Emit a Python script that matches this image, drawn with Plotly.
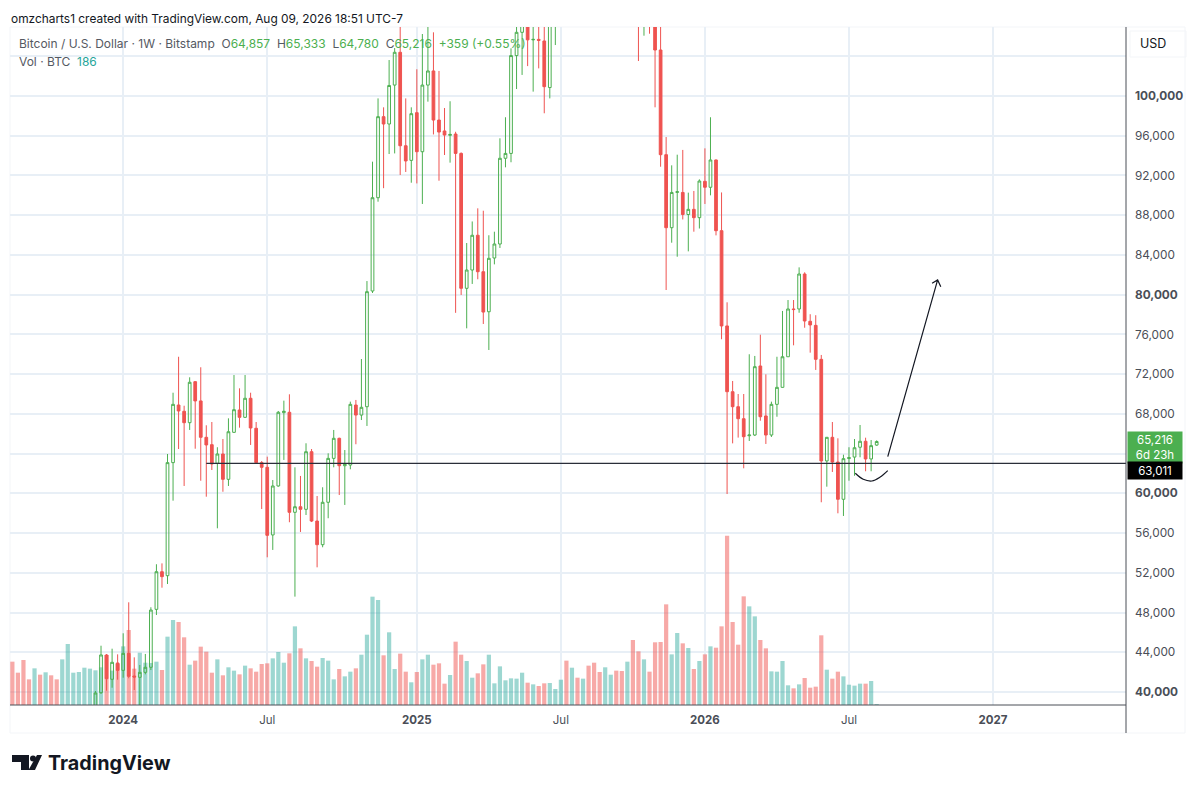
import pandas as pd
import plotly.graph_objects as go

# weekly bars, BTC/USD
first_week = "2023-08-14"
candle_start = 15  # earlier candles sit below the visible price range

volume = [8060, 6010, 8370, 4770, 6820, 5640, 6080, 5520, 4770, 8490,
          11350, 6010, 6140, 6940, 6760, 6450, 7010, 9300, 6390, 7630,
          10910, 13950, 6760, 9730, 7870, 7810, 8060, 6510, 12710, 15810,
          15440, 12590, 7500, 8250, 10850, 9920, 6010, 8490, 5520, 7010,
          6390, 5700, 7320, 6820, 6200, 7630, 7750, 8680, 9860, 7870,
          9610, 14630, 10540, 8680, 8180, 7130, 8740, 8250, 4770, 6700,
          5330, 6200, 6820, 9360, 13080, 20150, 19530, 9240, 13520, 6700,
          9550, 6200, 4220, 6140, 8490, 9360, 7500, 7750, 3970, 5580,
          11780, 9360, 8180, 5080, 5890, 7560, 9360, 4030, 7190, 4590,
          4960, 4900, 6010, 4150, 3840, 3530, 4030, 4090, 2980, 4710,
          8250, 6940, 5080, 4900, 7320, 7870, 6140, 7010, 5640, 6390,
          6320, 8060, 12090, 9980, 8490, 6200, 11660, 11720, 18720, 9420,
          13390, 11470, 10600, 6700, 8180, 9420, 10910, 10660, 14630, 31500,
          15440, 11220, 20210, 18350, 16490, 12090, 10540, 6260, 6200, 8180,
          3660, 3100, 3840, 5020, 3220, 3410, 12960, 6570, 4900, 6200,
          5330, 3780, 3600, 3970, 3970, 4460, 186]
volume_side = ("r r r r g r g r r g "
               "g g g g g g g r g r "
               "g r r g g g g r g g "
               "r r g r r r r g r g "
               "g r g r r r r g g g "
               "r g r g r r g g g r "
               "g g r g g g g r g g "
               "r r g r g g r r r g "
               "r r g g r r g g g g "
               "g g g r g r r g g g "
               "r g r g r r r g g r "
               "r g r r g r r r r g "
               "g r g r g r g r r r "
               "r r r g g r r g g g "
               "g r g r r r r g r r "
               "g g g g r g g").split()

candle_open = [
    37500, 39930, 43725, 41280, 42920, 42180, 43890, 41610, 41480, 41980,
    42490, 48320, 52110, 51710, 63090, 68890, 68260, 67110, 71240, 69300,
    65640, 64900, 63020, 63960, 61410, 66140, 68390, 67650, 69570, 66550,
    63090, 62620, 55810, 60740, 68120, 68160, 58090, 58650, 58390, 64190,
    57210, 54830, 59100, 63520, 65540, 62780, 62850, 68890, 67880, 68720,
    80370, 89760, 97920, 97180, 101100, 104400, 94990, 93520, 98320, 94390,
    101100, 102520, 97580, 96480, 96040, 96170, 94220, 80640, 82480, 85980,
    82310, 78280, 83690, 85100, 93730, 94220, 104070, 106410, 109000, 105650,
    105700, 105540, 100850, 110000, 112000, 115000, 117500, 118000, 117200, 113500,
    115700, 123000, 111500, 115000, 112000, 122000, 114500, 110500, 114000, 110000,
    112500, 110500, 104630, 94090, 86740, 90300, 90290, 88070, 88590, 87750,
    91410, 90810, 93560, 86440, 76850, 70230, 68720, 67510, 65800, 65870,
    72820, 67790, 65870, 68960, 70670, 73750, 78560, 78560, 82080, 77320,
    76910, 73490, 63260, 65640, 63150, 59400, 63500, 63650, 64640, 65240,
    63460, 64857]
candle_high = [
    40100, 44660, 43825, 44360, 43790, 45910, 49030, 43490, 42720, 43830,
    48530, 52860, 52950, 63960, 70130, 73750, 68820, 71680, 71300, 72690,
    66850, 67180, 64640, 65470, 67550, 71910, 70570, 71910, 70130, 67180,
    63250, 63690, 61340, 68290, 69330, 69970, 62620, 61750, 65040, 64460,
    59730, 60610, 64030, 66380, 65600, 64360, 69230, 69400, 73520, 81370,
    93390, 99760, 98860, 103620, 104830, 108000, 99760, 98860, 102690, 106240,
    107500, 106410, 102520, 98790, 99470, 96400, 94320, 85200, 87370, 88690,
    88450, 85980, 86340, 95740, 97860, 104800, 108000, 112000, 112000, 110000,
    109000, 109000, 113000, 114000, 116500, 119000, 120000, 120500, 119500, 117000,
    124000, 124500, 116000, 118000, 126000, 126500, 116000, 115500, 116000, 113500,
    113500, 112000, 108000, 95870, 93020, 94090, 94570, 90270, 90440, 91610,
    94730, 97860, 93600, 90290, 79230, 71310, 70000, 70000, 74000, 73830,
    75970, 71980, 69230, 73750, 78360, 79460, 79460, 82750, 82250, 78030,
    77930, 73930, 65670, 67180, 65540, 63890, 64640, 65470, 66880, 65600,
    65370, 65333]
candle_low = [
    36800, 39800, 40130, 40430, 41240, 41440, 41380, 40200, 38500, 41780,
    42210, 47750, 50500, 50870, 59260, 64460, 60740, 66380, 64490, 61270,
    59660, 62350, 56480, 60160, 60740, 66100, 66610, 67610, 64870, 63020,
    58420, 53560, 54300, 60670, 63360, 57090, 49600, 56110, 57820, 57110,
    52550, 54570, 57490, 62620, 59830, 58830, 62420, 64940, 67380, 66780,
    80170, 89360, 90720, 94160, 94220, 92050, 92350, 91270, 91200, 89130,
    99430, 96130, 91470, 94060, 93290, 78170, 79970, 76610, 81080, 81550,
    77050, 74430, 83050, 84700, 92820, 93330, 100700, 102120, 103010, 100440,
    102780, 98260, 99760, 105130, 109500, 113500, 114800, 115500, 112000, 110500,
    114500, 111000, 109000, 107300, 110000, 108000, 108500, 107200, 103520, 106070,
    106270, 98860, 92880, 80470, 85230, 83820, 87570, 84360, 86340, 86660,
    89130, 90000, 85970, 75510, 59930, 65030, 65610, 62520, 65270, 65770,
    67310, 64970, 65670, 67710, 70640, 73750, 74900, 78180, 76670, 74160,
    72420, 59100, 60670, 62150, 57990, 57720, 61270, 61770, 63630, 62220,
    62220, 64780]
candle_close = [
    39900, 43730, 41340, 42990, 42180, 43890, 41580, 41510, 41980, 42490,
    48250, 52110, 51610, 63090, 68960, 68290, 67110, 71180, 69300, 65640,
    64870, 62950, 63960, 61410, 66200, 68420, 67650, 69570, 66580, 63090,
    62620, 55770, 60740, 68160, 68260, 58090, 58650, 58390, 64190, 57210,
    54830, 59100, 63520, 65540, 62780, 62920, 68960, 67880, 68660, 80300,
    89760, 97920, 97180, 101060, 104400, 94990, 93460, 98220, 94390, 101100,
    102520, 97580, 96370, 96070, 96130, 94220, 80640, 82480, 85980, 82310,
    78250, 83660, 85100, 93730, 94220, 104070, 106410, 110000, 105650, 105700,
    105600, 100940, 110000, 112000, 115000, 117500, 118000, 117200, 113500, 115700,
    123000, 111500, 115000, 112000, 122000, 114500, 110500, 114000, 110000, 112500,
    110500, 104630, 94090, 86740, 90290, 90360, 88070, 88590, 87750, 91440,
    90810, 93560, 86440, 76850, 70230, 68720, 67510, 65700, 65870, 72750,
    67710, 65870, 68960, 70670, 73750, 78560, 78500, 82080, 77350, 76950,
    73490, 63260, 65640, 63150, 59400, 63490, 63590, 64590, 65240, 63460,
    64800, 65216]

price_ticks = list(range(40000, 108000, 4000))
bold_prices = [40000, 60000, 80000, 100000]
hidden_prices = [64000, 104000]  # sit under the price tag and the USD box
time_ticks = ["2024-01-01", "2024-07-01", "2025-01-06", "2025-07-07",
              "2026-01-05", "2026-07-06", "2027-01-04"]
time_labels = ["<b>2024</b>", "Jul", "<b>2025</b>", "Jul",
               "<b>2026</b>", "Jul", "<b>2027</b>"]

level_price = 63011
level_start = "2024-04-15"

# hand-drawn arrow and smile
arrow_dates = ["2026-08-24", "2026-10-26", "2026-10-19", "2026-10-26", "2026-10-30"]
arrow_prices = [63690, 81480, 81140, 81480, 80800]
smile_dates = ["2026-07-14", "2026-07-24", "2026-08-04", "2026-08-14", "2026-08-24"]
smile_prices = [62020, 61410, 61240, 61610, 62280]

GREEN = "#4CAF50"
RED = "#EF5350"
VOL_GREEN = "rgba(38,166,154,0.45)"
VOL_RED = "rgba(239,83,80,0.5)"
GRID = "#E8EFF6"
FONT = "Inter"

weeks = pd.date_range(first_week, periods=len(volume), freq="7D")


def px_x(px):
    return (px - 10) / 1116


def px_y(py):
    return (705 - py) / 678


def price_label(p):
    if p in hidden_prices:
        return ""
    return ("<b>%s</b>" if p in bold_prices else "%s") % format(p, ",")


fig = go.Figure()

fig.add_trace(go.Bar(
    x=weeks, y=volume,
    marker_color=[VOL_GREEN if s == "g" else VOL_RED for s in volume_side],
    marker_line_width=0,
    yaxis="y",
))

fig.add_trace(go.Candlestick(
    x=weeks[candle_start:],
    open=candle_open, high=candle_high, low=candle_low, close=candle_close,
    increasing=dict(line=dict(color=GREEN, width=1), fillcolor="rgba(0,0,0,0)"),
    decreasing=dict(line=dict(color=RED, width=1), fillcolor=RED),
    yaxis="y2",
))

fig.add_trace(go.Scatter(
    x=arrow_dates, y=arrow_prices, mode="lines",
    line=dict(color="#131722", width=1.2), yaxis="y2",
))
fig.add_trace(go.Scatter(
    x=smile_dates, y=smile_prices, mode="lines",
    line=dict(color="#131722", width=1.2, shape="spline"), yaxis="y2",
))

fig.add_shape(type="line", xref="x", yref="y2", x0=level_start, x1="2027-06-21",
              y0=level_price, y1=level_price, line=dict(color="#2a2e39", width=1.3))
# axis borders and outer frame
fig.add_shape(type="line", xref="paper", yref="paper", x0=1, x1=1, y0=px_y(733), y1=1,
              line=dict(color="#4a4e57", width=1))
fig.add_shape(type="line", xref="paper", yref="paper", x0=0, x1=1, y0=0, y1=0,
              line=dict(color="#4a4e57", width=1))
fig.add_shape(type="rect", xref="paper", yref="paper", x0=0, x1=px_x(1185),
              y0=px_y(733), y1=1, line=dict(color="#F3F5F8", width=1), layer="below")
fig.add_shape(type="rect", xref="paper", yref="paper", x0=px_x(1130), x1=px_x(1186),
              y0=px_y(57), y1=px_y(31), line=dict(color="#F3F5F8", width=1), layer="below")

# TradingView mark
fig.add_shape(type="path", xref="paper", yref="paper", fillcolor="#131722", line_width=0,
              path="M {} {} L {} {} L {} {} L {} {} L {} {} L {} {} Z".format(
                  px_x(12), px_y(755), px_x(29), px_y(755), px_x(29), px_y(770),
                  px_x(21), px_y(770), px_x(21), px_y(762), px_x(12), px_y(762)))
fig.add_shape(type="circle", xref="paper", yref="paper", fillcolor="#131722", line_width=0,
              x0=px_x(30), x1=px_x(36), y0=px_y(761.5), y1=px_y(755.5))
fig.add_shape(type="path", xref="paper", yref="paper", fillcolor="#131722", line_width=0,
              path="M {} {} L {} {} L {} {} L {} {} Z".format(
                  px_x(37), px_y(755), px_x(42), px_y(755), px_x(35), px_y(770), px_x(28.5), px_y(770)))


def paper_text(px, py, text, size=12, color="#131722"):
    fig.add_annotation(xref="paper", yref="paper", x=px_x(px), y=px_y(py), text=text,
                       showarrow=False, xanchor="left", yanchor="middle",
                       font=dict(family=FONT, size=size, color=color))


def g(s):
    return '<span style="color:%s">%s</span>' % (GREEN, s)


paper_text(8.5, 18, "omzcharts1 created with TradingView.com, Aug 09, 2026 18:51 UTC-7", size=11.9)
paper_text(16.5, 44, "Bitcoin / U.S. Dollar · 1W · Bitstamp  O" + g("64,857") + "  H" + g("65,333")
           + "  L" + g("64,780") + "  C" + g("65,216") + "  " + g("+359 (+0.55%)"),
           size=12, color="#555962")
paper_text(16.5, 61.5, 'Vol · BTC  <span style="color:#26A69A">186</span>', size=12, color="#555962")
paper_text(46, 763, "<b>TradingView</b>", size=19.8)
paper_text(1137.5, 44, "USD", size=12.5)

fig.add_annotation(xref="paper", yref="paper", x=px_x(1126.5), y=px_y(447.5),
                   text="65,216<br>6d 23h", showarrow=False, xanchor="left", yanchor="middle",
                   align="center", width=52, height=29, bgcolor=GREEN,
                   font=dict(family=FONT, size=11.5, color="white"))
fig.add_annotation(xref="paper", yref="paper", x=px_x(1126.5), y=px_y(470.5),
                   text="63,011", showarrow=False, xanchor="left", yanchor="middle",
                   align="center", width=52, height=15, bgcolor="black",
                   font=dict(family=FONT, size=11.5, color="white"))

fig.update_layout(
    width=1200, height=793,
    margin=dict(l=10, r=74, t=27, b=88),
    paper_bgcolor="white", plot_bgcolor="white",
    showlegend=False, bargap=0.24,
    font=dict(family=FONT, size=12, color="#4a4e57"),
    xaxis=dict(
        type="date", range=["2023-08-11", "2027-06-21"],
        tickmode="array", tickvals=time_ticks, ticktext=time_labels,
        showgrid=True, gridcolor=GRID, gridwidth=1.5, zeroline=False,
        rangeslider=dict(visible=False), ticks="", ticklen=0, ticklabelstandoff=6,
        tickfont=dict(family=FONT, size=11.5, color="#4a4e57"),
    ),
    yaxis=dict(range=[0, 126108], showgrid=False, zeroline=False, showticklabels=False,
               fixedrange=True),
    yaxis2=dict(
        overlaying="y", side="right", range=[38691, 106946],
        tickmode="array", tickvals=price_ticks,
        ticktext=[price_label(p) for p in price_ticks],
        showgrid=True, gridcolor=GRID, gridwidth=1.5, zeroline=False, ticks="", ticklen=0,
        ticklabelstandoff=8,
        tickfont=dict(family=FONT, size=11.8, color="#4a4e57"),
    ),
)

fig.write_html("out.html", post_script="document.body.style.margin='0';",
               config={"displayModeBar": False})
